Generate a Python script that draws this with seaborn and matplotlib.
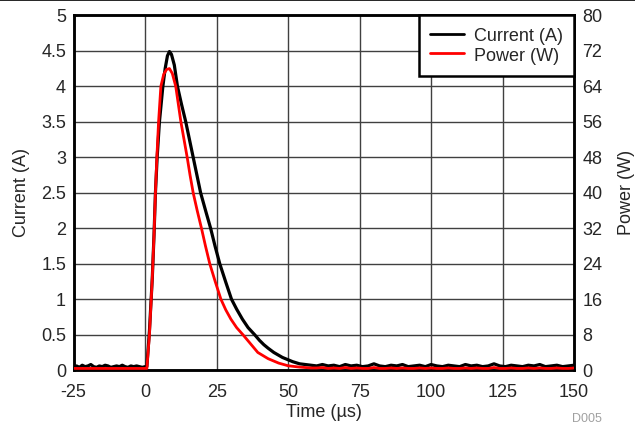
import numpy as np
import pandas as pd
import seaborn as sns
import matplotlib
matplotlib.use("Agg")
import matplotlib.pyplot as plt
from matplotlib.lines import Line2D

# -- * values (time in us)
pre_t = list(range(-25, 0))
pre_current = [0.05, 0.06, 0.04, 0.07, 0.05, 0.06, 0.08, 0.05, 0.04, 0.06,
               0.05, 0.07, 0.06, 0.04, 0.05, 0.06, 0.05, 0.07, 0.05, 0.04,
               0.06, 0.05, 0.06, 0.05, 0.04]
pre_power = [0.4] * 25

pulse_t_current = [0, 0.6, 1.5, 2.5, 3.1, 3.6, 4.2, 5.0, 6.2, 7.0, 7.8, 8.5, 9.2,
                   10.2, 11.3, 12.7, 14.2, 15.5, 16.8, 18.1, 19.4, 21.2, 22.9,
                   24.5, 26.1, 28.2, 30.2, 32, 34, 36, 38.3, 40, 41.5, 43, 45,
                   48, 51.6, 54]
pulse_current = [0.05, 0.05, 0.55, 1.3, 1.9, 2.5, 3.0, 3.5, 4.0, 4.25, 4.43,
                 4.49, 4.45, 4.3, 4.0, 3.75, 3.5, 3.25, 3.0, 2.75, 2.5, 2.24,
                 2.0, 1.74, 1.5, 1.24, 1.0, 0.86, 0.72, 0.6, 0.5, 0.42, 0.36,
                 0.31, 0.25, 0.18, 0.12, 0.09]

pulse_t_power = [0, 0.6, 1.5, 2.5, 3.1, 3.6, 4.1, 4.7, 5.5, 6.5, 7.5, 8.5, 9.5,
                 10.7, 11.6, 12.5, 13.6, 14.7, 15.7, 16.8, 18.2, 19.7, 21.1,
                 22.6, 24.5, 26.5, 28.2, 30, 32, 34.2, 36.8, 39.4, 43, 46.7,
                 50, 54]
pulse_power = [0.4, 0.4, 8, 20.8, 30.4, 40, 48, 56, 64, 66.7, 67.8, 68, 66.9,
               64, 60, 56, 52, 48, 44, 40, 36, 32, 28, 24, 20, 16, 13.6, 11.5,
               9.6, 8, 6, 4, 2.6, 1.6, 1.0, 0.7]

post_t = list(range(56, 151, 2))
post_current = [0.08, 0.07, 0.06, 0.08, 0.06, 0.07, 0.05, 0.08, 0.06, 0.07,
                0.05, 0.06, 0.09, 0.06, 0.05, 0.07, 0.06, 0.08, 0.05, 0.06,
                0.07, 0.05, 0.08, 0.06, 0.05, 0.07, 0.06, 0.05, 0.08, 0.06,
                0.07, 0.05, 0.06, 0.09, 0.06, 0.05, 0.07, 0.06, 0.05, 0.07,
                0.06, 0.08, 0.05, 0.06, 0.07, 0.05, 0.06, 0.07]
post_power = [0.6, 0.5, 0.5, 0.6, 0.4, 0.5, 0.4, 0.6, 0.4, 0.5,
              0.4, 0.4, 0.6, 0.4, 0.4, 0.5, 0.4, 0.5, 0.4, 0.4,
              0.5, 0.4, 0.5, 0.4, 0.4, 0.5, 0.4, 0.4, 0.5, 0.4,
              0.5, 0.4, 0.4, 0.6, 0.4, 0.4, 0.5, 0.4, 0.4, 0.5,
              0.4, 0.5, 0.4, 0.4, 0.5, 0.4, 0.4, 0.5]

x_ticks = [-25, 0, 25, 50, 75, 100, 125, 150]
left_ticks = [0, 0.5, 1, 1.5, 2, 2.5, 3, 3.5, 4, 4.5, 5]
right_ticks = [0, 8, 16, 24, 32, 40, 48, 56, 64, 72, 80]

df_current = pd.DataFrame({
    "time": pre_t + pulse_t_current + post_t,
    "value": pre_current + pulse_current + post_current,
})
df_power = pd.DataFrame({
    "time": pre_t + pulse_t_power + post_t,
    "value": pre_power + pulse_power + post_power,
})

sns.set_style("white")
plt.rcParams["font.family"] = ["Liberation Sans", "DejaVu Sans"]
plt.rcParams["font.size"] = 13

fig = plt.figure(figsize=(6.35, 4.26), dpi=100)
ax = fig.add_axes([0.116, 0.131, 0.788, 0.833])
ax2 = ax.twinx()

sns.lineplot(data=df_current, x="time", y="value", ax=ax, color="black",
             linewidth=2.3, sort=False, zorder=3)
sns.lineplot(data=df_power, x="time", y="value", ax=ax2, color="#ff0000",
             linewidth=2.0, sort=False, zorder=3)

ax.set_xlim(-25, 150)
ax.set_ylim(0, 5)
ax2.set_ylim(0, 80)
ax.set_xticks(x_ticks)
ax.set_xticklabels([str(v) for v in x_ticks])
ax.set_yticks(left_ticks)
ax.set_yticklabels([f"{v:g}" for v in left_ticks])
ax2.set_yticks(right_ticks)

ax.set_xlabel("Time (\u00b5s)", labelpad=2, fontsize=13)
ax.set_ylabel("Current (A)", labelpad=8, fontsize=13)
ax2.set_ylabel("Power (W)", labelpad=11, fontsize=13)

ax2.grid(False)
ax.grid(False)
for v in x_ticks[1:-1]:
    ax.axvline(v, color="#404040", lw=1.0, zorder=0)
for v in left_ticks[1:-1]:
    ax.axhline(v, color="#404040", lw=1.0, zorder=0)

ax.tick_params(axis="x", length=0, pad=10, labelsize=13)
ax.tick_params(axis="y", length=0, pad=5.5, labelsize=13)
ax2.tick_params(axis="y", length=0, pad=6, labelsize=13)
for a in (ax, ax2):
    for s in a.spines.values():
        s.set_color("black")
        s.set_linewidth(1.8)

handles = [Line2D([], [], color="black", lw=2.0),
           Line2D([], [], color="#ff0000", lw=2.0)]
leg = ax2.legend(handles, ["Current (A)", "Power (W)"], loc="upper right",
                 borderaxespad=0, frameon=True, fancybox=False,
                 handlelength=1.9, handleheight=1.1, fontsize=13,
                 borderpad=0.6, labelspacing=0.05, handletextpad=0.55)
leg.get_frame().set_edgecolor("black")
leg.get_frame().set_linewidth(1.8)
leg.get_frame().set_alpha(1)

fig.add_artist(Line2D([0, 1], [0.999, 0.999], color="black", lw=1.2,
                      transform=fig.transFigure))
fig.text(0.948, 0.002, "D005", color="#a0a0a0", fontsize=9, ha="right",
         va="bottom")

fig.savefig("out.png", dpi=100)
